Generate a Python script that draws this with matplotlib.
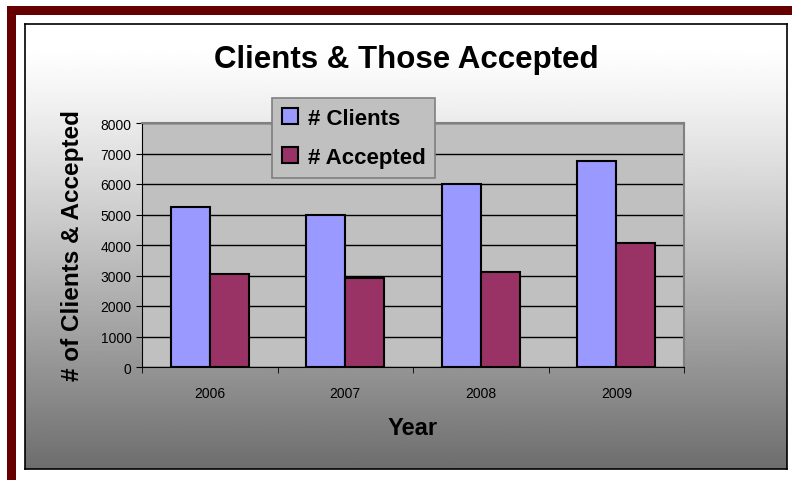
import numpy as np
import matplotlib
matplotlib.use("Agg")
from matplotlib import pyplot as plt
from matplotlib.patches import Rectangle

plt.rcParams['font.family'] = ['Liberation Sans', 'DejaVu Sans']

# Data
years = ["2006", "2007", "2008", "2009"]
clients = [5230, 4970, 6000, 6770]
accepted = [3050, 2910, 3110, 4080]
yticks = [0, 1000, 2000, 3000, 4000, 5000, 6000, 7000, 8000]

W, H = 792, 481
fig = plt.figure(figsize=(W / 100, H / 100), dpi=100)
fig.patch.set_facecolor("white")

def fx(px):
    return px / W

def fy(py):
    return 1 - py / H

# dark red frame strips
fig.patches.append(Rectangle((fx(7), fy(16)), fx(785), 9 / H, transform=fig.transFigure,
                             facecolor="#660000", edgecolor="none"))
fig.patches.append(Rectangle((fx(7), 0), 9 / W, fy(7), transform=fig.transFigure,
                             facecolor="#660000", edgecolor="none"))

# gradient chart area
bg = fig.add_axes([fx(25), fy(470), 762 / W, 445 / H])
t = np.linspace(0, 1, 256)
shade = 1.0 - 0.57 * np.clip((t - 0.05) / 0.95, 0, 1) ** 1.15
bg.imshow(shade[:, None], aspect="auto", cmap="gray", vmin=0, vmax=1,
          extent=[0, 1, 0, 1], origin="upper")
bg.set_xticks([])
bg.set_yticks([])
for s in bg.spines.values():
    s.set_color("black")
    s.set_linewidth(1.2)

# plot area
ax = fig.add_axes([fx(142), fy(368), 542 / W, 244 / H])
ax.set_facecolor("#c0c0c0")
x = np.arange(len(years))
bw = 0.288
ax.bar(x - bw / 2, clients, bw, color="#9999ff", edgecolor="black", linewidth=1.5,
       label="# Clients", zorder=3)
ax.bar(x + bw / 2, accepted, bw, color="#993366", edgecolor="black", linewidth=1.5,
       label="# Accepted", zorder=3)

ax.set_xlim(-0.5, len(years) - 0.5)
ax.set_ylim(0, 8000)
ax.set_yticks(yticks)
ax.set_yticklabels([str(v) for v in yticks], fontsize=10)
ax.yaxis.grid(True, color="black", linewidth=1)
ax.set_axisbelow(True)

ax.set_xticks(x)
ax.set_xticklabels(years, fontsize=10)
ax.tick_params(axis="x", length=0, pad=14)
ax.set_xticks(np.arange(len(years) + 1) - 0.5, minor=True)
ax.tick_params(axis="x", which="minor", length=4, color="black")
ax.tick_params(axis="y", length=4, color="black")

ax.spines["top"].set_color("#808080")
ax.spines["right"].set_color("#808080")
ax.spines["top"].set_linewidth(1.5)
ax.spines["right"].set_linewidth(1.5)

ax.set_xlabel("Year", fontsize=17, fontweight="bold", labelpad=11)
ax.set_ylabel("# of Clients & Accepted", fontsize=17.5, fontweight="bold", labelpad=12)

fig.text(fx(406), fy(60), "Clients & Those Accepted", fontsize=22.5, fontweight="bold",
         ha="center", va="center")

leg = ax.legend(loc="upper left", bbox_to_anchor=(fx(272), fy(99)),
                bbox_transform=fig.transFigure, prop={"weight": "bold", "size": 16},
                frameon=True, fancybox=False, framealpha=1, handlelength=0.7, handleheight=0.7,
                handletextpad=0.45, labelspacing=0.8, borderpad=0.45, borderaxespad=0)
leg.get_frame().set_facecolor("#c0c0c0")
leg.get_frame().set_edgecolor("#808080")
leg.get_frame().set_linewidth(1.2)

fig.savefig("out.png", dpi=100)
